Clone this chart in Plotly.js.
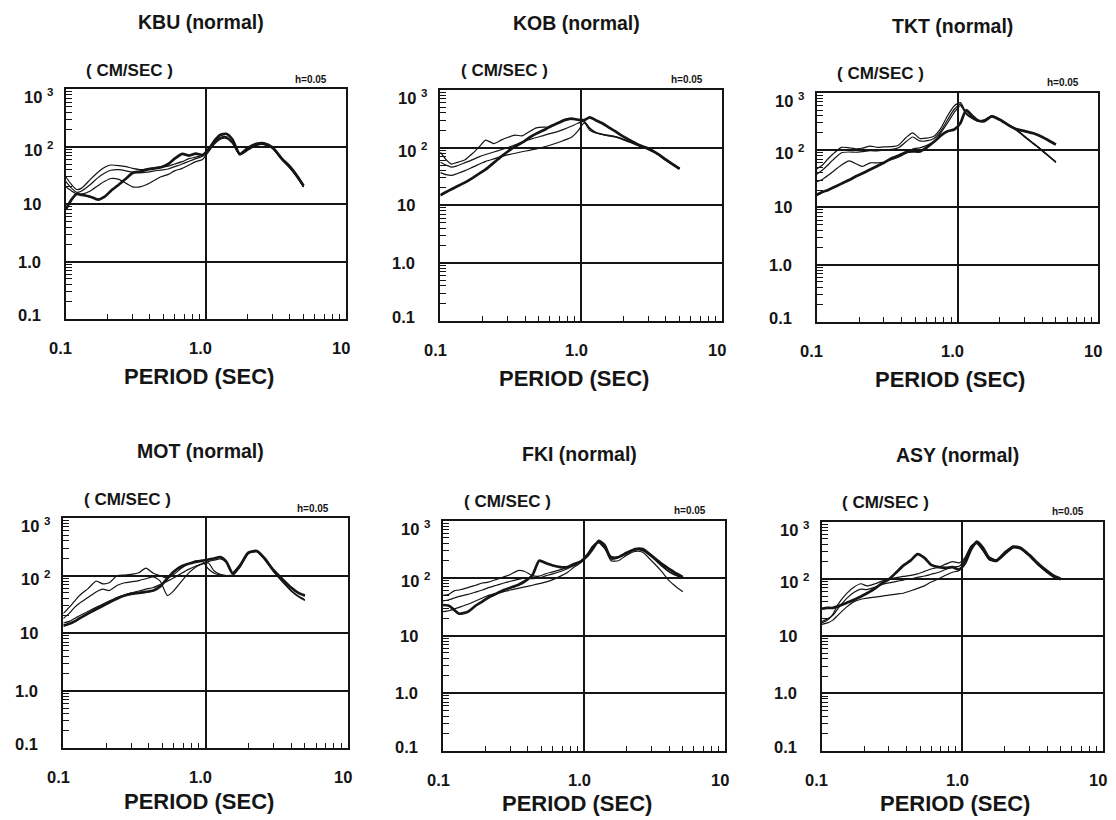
<!DOCTYPE html>
<html>
<head>
<meta charset="utf-8">
<script src="https://cdn.plot.ly/plotly-3.0.1.min.js"></script>
<style>
  html, body { margin: 0; padding: 0; background: #ffffff; }
  #chart { width: 1116px; height: 820px; }
</style>
</head>
<body>
<div id="chart"></div>
<script>
// Velocity response spectra (h = 0.05), period in seconds, response in cm/sec.
const periods = [0.10, 0.11, 0.12, 0.13, 0.15, 0.17, 0.19, 0.21, 0.24, 0.27, 0.30, 0.34, 0.38, 0.43, 0.48, 0.54, 0.60, 0.68, 0.76, 0.85, 0.95, 1.05, 1.15, 1.27, 1.40, 1.55, 1.75, 2.0, 2.3, 2.6, 3.0, 3.5, 4.0, 4.5, 5.0];

const kbuThick = [8, 12, 15, 14.5, 13.5, 12, 13.5, 17, 22, 28, 35, 37, 40, 42, 44, 50, 62, 75, 70, 76, 72, 90, 125, 160, 168, 135, 75, 95, 112, 115, 98, 62, 45, 31, 21];
const kbuThinA = [30, 22, 18, 19, 27, 36, 44, 48, 47, 45, 42, 40, 41, 43, 44, 46, 50, 55, 62, 66, 72, 95, 120, 145, 150, 120, 75, 90, 108, 112, 95, 60, 43, 30, 20];
const kbuThinB = [25, 19, 16, 17, 22, 29, 35, 39, 40, 38, 36, 35, 36, 38, 39, 41, 45, 50, 56, 62, 68, 88, 115, 140, 145, 118, 73, 88, 106, 110, 94, 60, 43, 30, 20];
const kbuThinC = [20, 17, 15, 15, 17, 21, 25, 28, 27, 23, 20, 20, 22, 26, 30, 33, 38, 42, 48, 55, 60, 82, 110, 135, 140, 115, 72, 87, 105, 109, 93, 59, 42, 29, 20];

const kobThick = [15, 17, 19, 21, 25, 30, 36, 42, 55, 70, 85, 105, 122, 150, 175, 200, 230, 265, 300, 320, 305, 300, 335, 300, 268, 230, 192, 155, 128, 110, 97, 78, 62, 51, 43];
const kobThinA = [84, 62, 52, 55, 62, 80, 105, 135, 118, 135, 150, 165, 160, 190, 220, 228, 225, 270, 310, 320, 300, 280, 200, 180, 170, 162, 155, 140, 122, 108, 95, 78, 62, 52, 44];
const kobThinB = [56, 50, 46, 48, 55, 62, 70, 76, 84, 92, 100, 112, 125, 138, 150, 162, 175, 190, 210, 235, 265, 285, 220, 185, 172, 165, 155, 138, 122, 108, 93, 77, 61, 51, 44];
const kobThinC = [37, 34, 33, 35, 40, 46, 52, 58, 64, 70, 75, 80, 85, 90, 95, 102, 110, 122, 135, 150, 195, 270, 215, 182, 170, 162, 153, 136, 120, 106, 92, 76, 60, 50, 43];

const tktThick = [16.5, 18.5, 20, 22, 26, 30, 35, 39, 46, 53, 60, 72, 80, 92, 95, 95, 110, 140, 180, 215, 230, 300, 500, 400, 330, 320, 390, 340, 275, 235, 215, 195, 170, 145, 125];
const tktThinA = [47, 55, 70, 85, 112, 110, 106, 108, 118, 112, 114, 115, 122, 165, 200, 160, 162, 175, 240, 400, 600, 680, 450, 370, 330, 340, 400, 350, 280, 235, 175, 130, 100, 78, 63];
const tktThinB = [38, 45, 55, 67, 90, 93, 92, 94, 98, 97, 100, 103, 110, 140, 170, 145, 145, 160, 215, 340, 520, 640, 440, 365, 325, 335, 395, 345, 275, 230, 172, 128, 98, 77, 62];
const tktThinC = [28, 31, 36, 42, 55, 65, 58, 52, 60, 60, 62, 68, 75, 88, 105, 110, 120, 140, 200, 300, 460, 600, 430, 360, 320, 330, 390, 340, 270, 225, 170, 126, 97, 76, 61];

const motThick = [13.5, 14.5, 16, 18, 22, 26, 30, 34, 40, 45, 48, 50, 52, 55, 65, 90, 118, 145, 160, 172, 182, 190, 198, 210, 175, 110, 150, 250, 268, 200, 125, 85, 62, 50, 45];
const motThinA = [22, 28, 36, 45, 60, 80, 72, 75, 100, 102, 105, 112, 135, 110, 100, 90, 105, 135, 160, 180, 175, 130, 110, 102, 100, 102, 145, 245, 262, 195, 120, 78, 55, 44, 38];
const motThinB = [18, 22, 28, 33, 42, 52, 58, 55, 68, 75, 78, 82, 88, 95, 80, 45, 55, 80, 110, 140, 160, 165, 120, 105, 100, 100, 140, 240, 258, 192, 118, 76, 54, 43, 37];
const motThinC = [15, 16, 18, 20, 24, 28, 32, 36, 42, 46, 50, 54, 58, 62, 70, 80, 92, 110, 128, 145, 160, 175, 185, 195, 170, 110, 148, 248, 268, 198, 124, 84, 61, 50, 44];

const fkiThick = [34, 33, 28, 24, 26, 33, 39, 46, 54, 62, 68, 76, 88, 112, 200, 180, 165, 155, 155, 175, 195, 240, 320, 445, 370, 220, 230, 275, 320, 320, 245, 180, 145, 120, 104];
const fkiThinA = [50, 52, 60, 62, 68, 75, 82, 85, 95, 105, 115, 135, 130, 110, 108, 120, 128, 140, 155, 175, 200, 260, 360, 430, 330, 200, 200, 250, 290, 280, 200, 135, 90, 70, 58];
const fkiThinB = [40, 42, 45, 48, 52, 57, 62, 68, 75, 82, 88, 95, 100, 98, 100, 110, 118, 130, 145, 165, 190, 250, 350, 420, 330, 240, 235, 270, 310, 305, 240, 170, 130, 112, 102];
const fkiThinC = [26, 27, 29, 31, 35, 40, 45, 50, 54, 58, 62, 66, 70, 75, 80, 86, 94, 108, 125, 155, 185, 245, 340, 410, 325, 235, 230, 265, 305, 300, 235, 165, 128, 110, 100];

const asyThick = [30, 31, 31, 33, 38, 43, 49, 56, 68, 85, 98, 130, 170, 210, 270, 230, 175, 160, 155, 160, 145, 190, 320, 445, 350, 235, 210, 285, 365, 345, 260, 180, 138, 112, 100];
const asyThinA = [17, 19, 24, 35, 55, 72, 82, 75, 82, 92, 98, 105, 110, 115, 122, 135, 148, 160, 180, 200, 190, 240, 370, 430, 320, 220, 205, 270, 355, 340, 255, 175, 135, 112, 100];
const asyThinB = [18, 20, 23, 30, 45, 58, 66, 65, 72, 80, 85, 90, 95, 100, 106, 112, 120, 130, 145, 160, 165, 230, 360, 420, 315, 218, 205, 268, 350, 335, 250, 170, 132, 108, 98];
const asyThinC = [16, 17, 19, 23, 32, 40, 44, 46, 48, 50, 52, 54, 56, 62, 68, 76, 88, 100, 115, 130, 140, 220, 350, 410, 310, 215, 200, 262, 345, 330, 245, 168, 128, 105, 96];

const stationNames = ['KBU', 'KOB', 'TKT', 'MOT', 'FKI', 'ASY'];
const stationThick = [kbuThick, kobThick, tktThick, motThick, fkiThick, asyThick];
const stationThin = [
  [kbuThinA, kbuThinB, kbuThinC],
  [kobThinA, kobThinB, kobThinC],
  [tktThinA, tktThinB, tktThinC],
  [motThinA, motThinB, motThinC],
  [fkiThinA, fkiThinB, fkiThinC],
  [asyThinA, asyThinB, asyThinC]
];

const xTickValues = [0.1, 1, 10];
const xTickLabels = ['0.1', '1.0', '10'];
const yTickValues = [0.1, 1, 10, 100, 1000];
const yTickLabels = ['0.1', '1.0', '10', '10 <sup>2</sup>', '10 <sup>3</sup>'];
const xMinorValues = [0.2, 0.3, 0.4, 0.5, 0.6, 0.7, 0.8, 0.9, 2, 3, 4, 5, 6, 7, 8, 9];
const yMinorValues = [0.2, 0.3, 0.4, 0.5, 0.6, 0.7, 0.8, 0.9, 2, 3, 4, 5, 6, 7, 8, 9,
                      20, 30, 40, 50, 60, 70, 80, 90, 200, 300, 400, 500, 600, 700, 800, 900];
const unitText = '( CM/SEC )';
const dampingText = 'h=0.05';
const xTitleText = 'PERIOD (SEC)';

// ---- page geometry (pixels) ----
const W = 1116, H = 820;
const frames = [
  { l: 65.7,  r: 345.7,  t: 89.3,  b: 319.0 },
  { l: 440.3, r: 722.0,  t: 90.0,  b: 320.7 },
  { l: 816.7, r: 1098.3, t: 93.0,  b: 321.7 },
  { l: 63.3,  r: 347.7,  t: 518.0, b: 748.3 },
  { l: 443.0, r: 725.3,  t: 520.5, b: 750.7 },
  { l: 821.7, r: 1103.0, t: 521.5, b: 750.7 }
];
const INK = '#151515';
const FONT = 'Liberation Sans, Arial, Helvetica, sans-serif';
const px = v => v / W;
const py = v => 1 - v / H;
// small vertical nudges for the y tick labels (0.1 ... 10^3)
const yLabelShift = [4, 0, 0, -2, -7];

const traces = [];
const annotations = [];
const layout = {
  width: W, height: H,
  margin: { l: 0, r: 0, t: 0, b: 0 },
  paper_bgcolor: '#ffffff',
  plot_bgcolor: '#ffffff',
  showlegend: false,
  font: { family: FONT, color: INK },
  annotations: annotations
};

frames.forEach((f, i) => {
  const n = i + 1;
  const xid = n === 1 ? 'x' : 'x' + n;
  const yid = n === 1 ? 'y' : 'y' + n;
  const xKey = n === 1 ? 'xaxis' : 'xaxis' + n;
  const yKey = n === 1 ? 'yaxis' : 'yaxis' + n;

  const common = {
    type: 'log',
    showticklabels: false,
    ticks: '',
    showgrid: true, gridcolor: INK, gridwidth: 2,
    showline: true, mirror: true, linecolor: INK, linewidth: 2,
    zeroline: false, fixedrange: true
  };
  layout[xKey] = Object.assign({}, common, {
    domain: [px(f.l), px(f.r)], anchor: yid, range: [-1, 1],
    tickmode: 'array', tickvals: xTickValues,
    minor: { tickmode: 'array', tickvals: xMinorValues, ticks: 'inside', ticklen: 5, tickwidth: 1, tickcolor: INK, showgrid: false }
  });
  layout[yKey] = Object.assign({}, common, {
    domain: [py(f.b), py(f.t)], anchor: xid, range: [-1, 3],
    tickmode: 'array', tickvals: yTickValues,
    minor: { tickmode: 'array', tickvals: yMinorValues, ticks: 'inside', ticklen: 6, tickwidth: 1, tickcolor: INK, showgrid: false }
  });

  // thin curves underneath, heavy curve on top
  stationThin[i].forEach(vals => {
    traces.push({
      x: periods, y: vals, xaxis: xid, yaxis: yid, mode: 'lines',
      line: { color: INK, width: 1.2, shape: 'spline', smoothing: 0.6 },
      hoverinfo: 'skip'
    });
  });
  traces.push({
    x: periods, y: stationThick[i], xaxis: xid, yaxis: yid, mode: 'lines',
    line: { color: INK, width: 2.7, shape: 'spline', smoothing: 0.6 },
    hoverinfo: 'skip'
  });

  const cx = (f.l + f.r) / 2;
  const bottomRow = i >= 3;
  annotations.push({
    xref: 'paper', yref: 'paper', x: px(cx - 5), y: py(f.t - 67),
    xanchor: 'center', yanchor: 'middle', showarrow: false,
    text: stationNames[i] + ' (normal)',
    font: { family: FONT, size: 19.5, color: INK, weight: 'bold' }
  });
  annotations.push({
    xref: 'paper', yref: 'paper', x: px(f.l + 64), y: py(f.t - 19),
    xanchor: 'center', yanchor: 'middle', showarrow: false,
    text: unitText,
    font: { family: FONT, size: 17, color: INK, weight: 'bold' }
  });
  annotations.push({
    xref: 'paper', yref: 'paper', x: px(f.r - 17), y: py(f.t - 10),
    xanchor: 'right', yanchor: 'middle', showarrow: false,
    text: dampingText,
    font: { family: FONT, size: 10, color: INK, weight: 'bold' }
  });
  annotations.push({
    xref: 'paper', yref: 'paper', x: px(cx - 7), y: py(f.b + (bottomRow ? 53 : 58)),
    xanchor: 'center', yanchor: 'middle', showarrow: false,
    text: xTitleText,
    font: { family: FONT, size: 22, color: INK, weight: 'bold' }
  });
  xTickValues.forEach((v, k) => {
    annotations.push({
      xref: xid, yref: 'paper', x: Math.log10(v), y: py(f.b + 29),
      xanchor: 'center', yanchor: 'middle', xshift: -5, showarrow: false,
      text: xTickLabels[k],
      font: { family: FONT, size: 16.5, color: INK, weight: 'bold' }
    });
  });
  yTickValues.forEach((v, k) => {
    const hasSup = yTickLabels[k].indexOf('<sup>') >= 0;
    annotations.push({
      xref: 'paper', yref: yid, x: px(f.l - (hasSup ? 11 : 23)), y: Math.log10(v),
      xanchor: 'right', yanchor: 'middle', yshift: yLabelShift[k], showarrow: false,
      text: yTickLabels[k],
      font: { family: FONT, size: 16.5, color: INK, weight: 'bold' }
    });
  });
});

Plotly.newPlot('chart', traces, layout, { staticPlot: true, displayModeBar: false });
</script>
</body>
</html>
